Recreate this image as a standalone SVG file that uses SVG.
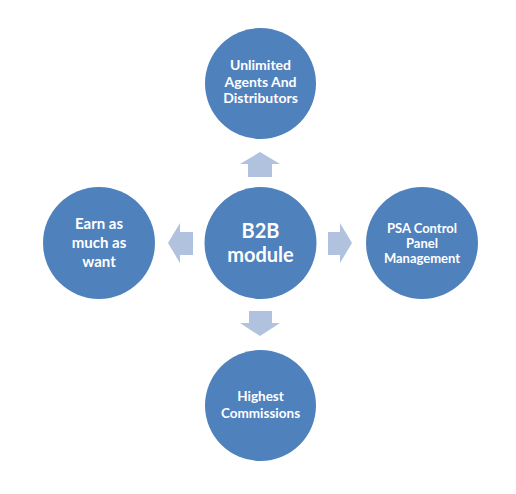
<svg xmlns="http://www.w3.org/2000/svg" width="516" height="494" viewBox="0 0 516 494">
<style>
.node{fill:#4F81BD;}
.arr{fill:#B0C2DD;}
text{font-family:Lato,"Liberation Sans",sans-serif;font-weight:bold;fill:#FFFFFF;text-anchor:middle;}
</style>
<rect width="516" height="494" fill="#FFFFFF"/>
<g id="connectors">
<polygon class="arr" points="248,177 248,164 240,164 260,152 280,164 272,164 272,177"/>
<polygon class="arr" points="249,311 272,311 272,323 280,323 260,336 240,323 249,323"/>
<polygon class="arr" points="193,232 180,232 180,223 168,243 180,263 180,255 193,255"/>
<polygon class="arr" points="328,232 340,232 340,223 352,243 340,263 340,255 328,255"/>
</g>
<g id="center">
<circle class="node" cx="260.5" cy="243" r="56"/>
<text x="260.5" y="238" font-size="20">B2B</text>
<text x="260.5" y="262" font-size="20">module</text>
</g>
<g id="top">
<circle class="node" cx="260.5" cy="83.5" r="55.5"/>
<text x="260.5" y="70" font-size="14">Unlimited</text>
<text x="260.5" y="86.5" font-size="14">Agents And</text>
<text x="260.5" y="103" font-size="14">Distributors</text>
</g>
<g id="left">
<circle class="node" cx="99" cy="243" r="56"/>
<text x="99" y="229" font-size="15">Earn as</text>
<text x="99" y="248" font-size="15">much as</text>
<text x="99" y="267" font-size="15">want</text>
</g>
<g id="right">
<circle class="node" cx="422" cy="243" r="56"/>
<text x="422" y="233" font-size="13">PSA Control</text>
<text x="422" y="248" font-size="13">Panel</text>
<text x="422" y="263" font-size="13">Management</text>
</g>
<g id="bottom">
<circle class="node" cx="260.5" cy="405.5" r="55.5"/>
<text x="260.5" y="401" font-size="13.5">Highest</text>
<text x="260.5" y="417.5" font-size="13.5">Commissions</text>
</g>
</svg>
